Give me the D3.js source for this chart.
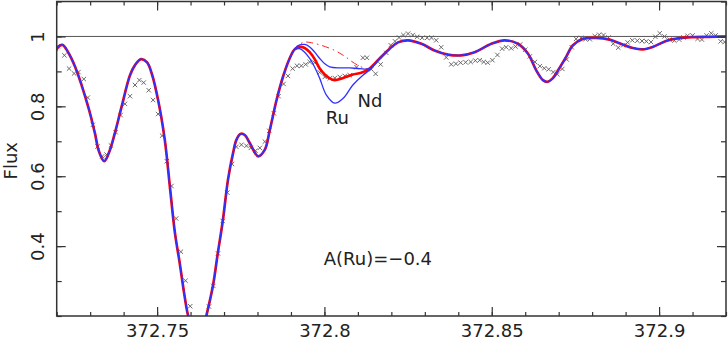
<!DOCTYPE html>
<html>
<head>
<meta charset="utf-8">
<script src="https://cdn.jsdelivr.net/npm/d3@7"></script>
<style>
  body { margin: 0; background: #fff; }
  svg { display: block; font-family: "DejaVu Sans", sans-serif; }
</style>
</head>
<body>
<div id="chart"></div>
<script>
// axis ticks
const xTickLabels = [372.75, 372.8, 372.85, 372.9];
const yTickLabels = [0.4, 0.6, 0.8, 1];

// observed spectrum [wavelength nm, normalised flux]
const observed = [
  [372.7203,0.972],[372.7223,0.946],[372.7237,0.908],[372.7252,0.894],[372.7265,0.898],[372.7281,0.878],
  [372.7293,0.825],[372.7308,0.747],[372.7322,0.685],[372.7336,0.657],[372.7349,0.662],[372.7362,0.688],
  [372.7376,0.726],[372.7391,0.775],[372.7404,0.807],[372.7419,0.829],[372.7434,0.861],[372.7447,0.875],
  [372.7460,0.868],[372.7475,0.846],[372.7488,0.818],[372.7503,0.778],[372.7515,0.716],[372.7529,0.643],
  [372.7543,0.572],[372.7557,0.479],[372.7571,0.384],[372.7585,0.301],[372.7599,0.228],
  [372.7655,0.227],[372.7668,0.286],[372.7682,0.379],[372.7696,0.472],[372.7710,0.553],[372.7724,0.635],
  [372.7737,0.684],[372.7752,0.690],[372.7767,0.687],[372.7780,0.681],[372.7794,0.673],[372.7807,0.681],
  [372.7822,0.699],[372.7835,0.730],[372.7849,0.780],[372.7863,0.829],[372.7878,0.864],[372.7891,0.887],
  [372.7905,0.908],[372.7918,0.916],[372.7931,0.916],[372.7944,0.920],[372.7956,0.927],[372.7971,0.925],
  [372.7986,0.897],[372.8001,0.884],[372.8016,0.880],[372.8031,0.881],[372.8046,0.884],[372.8061,0.887],
  [372.8076,0.889],[372.8096,0.912],[372.8115,0.939],[372.8127,0.939],[372.8140,0.906],[372.8153,0.893],
  [372.8168,0.920],[372.8185,0.953],[372.8198,0.975],[372.8211,0.986],[372.8223,0.997],[372.8236,1.004],
  [372.8250,1.008],[372.8264,1.004],[372.8277,0.999],[372.8292,0.996],[372.8307,0.996],[372.8320,0.996],
  [372.8334,0.989],[372.8349,0.969],[372.8364,0.940],[372.8379,0.920],[372.8393,0.922],[372.8407,0.925],
  [372.8422,0.926],[372.8437,0.927],[372.8451,0.931],[372.8464,0.932],[372.8476,0.927],[372.8488,0.925],
  [372.8502,0.932],[372.8517,0.947],[372.8531,0.965],[372.8543,0.969],[372.8558,0.966],[372.8571,0.971],
  [372.8585,0.977],[372.8600,0.962],[372.8614,0.943],[372.8629,0.927],[372.8644,0.915],[372.8657,0.909],
  [372.8670,0.906],[372.8684,0.898],[372.8696,0.892],[372.8711,0.907],[372.8724,0.934],[372.8739,0.969],
  [372.8752,0.993],[372.8767,0.996],[372.8780,0.992],[372.8793,0.992],[372.8808,1.001],[372.8821,1.005],
  [372.8834,1.004],[372.8849,0.997],[372.8863,0.979],[372.8878,0.968],[372.8893,0.975],[372.8906,0.983],
  [372.8920,0.989],[372.8935,0.988],[372.8949,0.987],[372.8962,0.986],[372.8976,0.984],[372.8989,0.999],
  [372.9002,1.009],[372.9016,1.000],[372.9031,0.991],[372.9046,0.988],[372.9060,0.991],[372.9073,0.997],
  [372.9085,1.002],[372.9100,1.003],[372.9115,0.993],[372.9128,0.991],[372.9142,1.003],[372.9156,1.009],
  [372.9169,1.003],[372.9184,0.986],[372.9196,0.984]
];

// best-fit synthetic spectrum, A(Ru) = -0.4
const synthBest = [
  [372.7195,0.950],[372.7201,0.966],[372.7217,0.976],[372.7234,0.955],[372.7255,0.913],[372.7294,0.799],
  [372.7314,0.724],[372.7326,0.672],[372.7342,0.643],[372.7358,0.672],[372.7374,0.724],[372.7394,0.799],
  [372.7419,0.889],[372.7434,0.918],[372.7452,0.935],[372.7470,0.926],[372.7484,0.894],[372.7503,0.818],
  [372.7523,0.704],[372.7538,0.572],[372.7553,0.440],[372.7568,0.349],[372.7581,0.264],[372.7592,0.204],
  [372.7607,0.158],[372.7620,0.135],[372.7634,0.153],[372.7648,0.204],[372.7667,0.287],[372.7681,0.377],
  [372.7697,0.477],[372.7712,0.591],[372.7727,0.666],[372.7737,0.704],[372.7749,0.721],[372.7762,0.718],
  [372.7777,0.695],[372.7802,0.657],[372.7822,0.676],[372.7837,0.733],[372.7857,0.818],[372.7876,0.884],
  [372.7896,0.937],[372.7911,0.963],[372.7926,0.970],[372.7941,0.967],[372.7956,0.955],[372.7971,0.935],
  [372.7986,0.908],[372.8001,0.891],[372.8016,0.880],[372.8031,0.875],[372.8056,0.881],[372.8085,0.891],
  [372.8110,0.896],[372.8135,0.908],[372.8165,0.937],[372.8195,0.965],[372.8220,0.983],[372.8250,0.989],
  [372.8290,0.979],[372.8329,0.960],[372.8369,0.948],[372.8409,0.946],[372.8449,0.955],[372.8499,0.979],
  [372.8538,0.989],[372.8578,0.979],[372.8608,0.951],[372.8633,0.903],[372.8653,0.875],[372.8666,0.870],
  [372.8682,0.880],[372.8702,0.909],[372.8722,0.941],[372.8742,0.974],[372.8772,0.993],[372.8812,0.996],
  [372.8852,0.991],[372.8891,0.977],[372.8921,0.967],[372.8951,0.963],[372.8981,0.970],[372.9021,0.987],
  [372.9061,0.995],[372.9100,0.998],[372.9150,0.999],[372.9205,1.000]
];

// Ru line window and the alternative syntheses inside it
const ruWindow = [372.7900, 372.8140];
const synthLowRu = [
  [372.7911,0.964],[372.7926,0.976],[372.7941,0.977],[372.7956,0.970],[372.7971,0.955],[372.7986,0.937],
  [372.8001,0.922],[372.8016,0.913],[372.8046,0.910],[372.8076,0.910],[372.8105,0.908],[372.8135,0.908]
];
const synthHighRu = [
  [372.7911,0.962],[372.7926,0.965],[372.7941,0.955],[372.7956,0.937],[372.7971,0.912],[372.7986,0.880],
  [372.8006,0.832],[372.8031,0.809],[372.8056,0.823],[372.8085,0.861],[372.8115,0.889],[372.8135,0.904]
];
const synthNoRu = [
  [372.7911,0.966],[372.7926,0.978],[372.7941,0.984],[372.7961,0.982],[372.7986,0.976],[372.8031,0.960],
  [372.8061,0.943],[372.8090,0.923],[372.8120,0.909],[372.8135,0.907]
];

const width = 728, height = 342;
const margin = {top: 1.5, right: 2, bottom: 26, left: 56.7};
const ink = '#333';

const svg = d3.select('#chart').append('svg')
  .attr('width', width)
  .attr('height', height);

const x = d3.scaleLinear().domain([372.72, 372.92]).range([margin.left, width - margin.right]);
const y = d3.scaleLinear().domain([0.2, 1.1]).range([height - margin.bottom, margin.top]);

svg.append('clipPath').attr('id', 'plot-clip')
  .append('rect')
  .attr('x', x.range()[0]).attr('y', y.range()[1])
  .attr('width', x.range()[1] - x.range()[0])
  .attr('height', y.range()[0] - y.range()[1]);

function splice(region) {
  return synthBest.filter(d => d[0] < ruWindow[0])
    .concat(region, synthBest.filter(d => d[0] > ruWindow[1]));
}

const line = d3.line()
  .x(d => x(d[0]))
  .y(d => y(d[1]))
  .curve(d3.curveCatmullRom.alpha(0.5));

// continuum
svg.append('line')
  .attr('x1', x.range()[0]).attr('x2', x.range()[1])
  .attr('y1', y(1)).attr('y2', y(1))
  .attr('stroke', '#555').attr('stroke-width', 1);

const plot = svg.append('g').attr('clip-path', 'url(#plot-clip)');

// observed points as crosses
const cross = 2.2;
plot.append('g').selectAll('path')
  .data(observed)
  .join('path')
  .attr('d', d => {
    const cx = x(d[0]), cy = y(d[1]);
    return `M${cx - cross},${cy - cross}L${cx + cross},${cy + cross}M${cx - cross},${cy + cross}L${cx + cross},${cy - cross}`;
  })
  .attr('stroke', '#5a5a5a')
  .attr('stroke-width', 0.9)
  .attr('fill', 'none');

plot.append('path')
  .attr('d', line(splice(synthNoRu)))
  .attr('fill', 'none')
  .attr('stroke', '#ff2020')
  .attr('stroke-width', 1)
  .attr('stroke-dasharray', '7,4,1.5,4');

plot.append('path')
  .attr('d', line(synthBest))
  .attr('fill', 'none')
  .attr('stroke', '#ff0000')
  .attr('stroke-width', 2.7);

[synthLowRu, synthHighRu].forEach(region => {
  plot.append('path')
    .attr('d', line(splice(region)))
    .attr('fill', 'none')
    .attr('stroke', '#3030ff')
    .attr('stroke-width', 1.3);
});

// axes, ticks pointing inward
const minorX = x.ticks(20), minorY = y.ticks(9);
const fmt = d => String(+d.toFixed(2));

function styleAxis(g) {
  g.select('.domain').remove();
  g.selectAll('line').attr('stroke', ink).attr('stroke-width', 1.2);
  g.selectAll('text').attr('fill', '#222').attr('font-size', 18).attr('font-family', '"DejaVu Sans", sans-serif');
}

svg.append('g').attr('transform', `translate(0,${y.range()[0]})`)
  .call(d3.axisBottom(x).tickValues(minorX).tickSize(-4).tickFormat('')).call(styleAxis);
svg.append('g').attr('transform', `translate(0,${y.range()[0]})`)
  .call(d3.axisBottom(x).tickValues(xTickLabels).tickSizeInner(-9).tickSizeOuter(0).tickPadding(8).tickFormat(fmt))
  .call(styleAxis);
svg.append('g').attr('transform', `translate(0,${y.range()[1]})`)
  .call(d3.axisTop(x).tickValues(minorX).tickSize(-4).tickFormat('')).call(styleAxis);
svg.append('g').attr('transform', `translate(0,${y.range()[1]})`)
  .call(d3.axisTop(x).tickValues(xTickLabels).tickSize(-9).tickFormat('')).call(styleAxis);

svg.append('g').attr('transform', `translate(${x.range()[0]},0)`)
  .call(d3.axisLeft(y).tickValues(minorY).tickSize(-5).tickFormat('')).call(styleAxis);
svg.append('g').attr('transform', `translate(${x.range()[0]},0)`)
  .call(d3.axisLeft(y).tickValues(yTickLabels).tickSizeInner(-9).tickSizeOuter(0).tickFormat(fmt))
  .call(styleAxis)
  .call(g => g.selectAll('text')
    .attr('x', 0).attr('dy', 0)
    .attr('text-anchor', 'middle')
    .attr('transform', 'translate(-13,0) rotate(-90)'));
svg.append('g').attr('transform', `translate(${x.range()[1]},0)`)
  .call(d3.axisRight(y).tickValues(minorY).tickSize(-5).tickFormat('')).call(styleAxis);
svg.append('g').attr('transform', `translate(${x.range()[1]},0)`)
  .call(d3.axisRight(y).tickValues(yTickLabels).tickSize(-9).tickFormat('')).call(styleAxis);

// frame
svg.append('rect')
  .attr('x', x.range()[0]).attr('y', y.range()[1])
  .attr('width', x.range()[1] - x.range()[0])
  .attr('height', y.range()[0] - y.range()[1])
  .attr('fill', 'none')
  .attr('stroke', ink)
  .attr('stroke-width', 1.5);

svg.append('text')
  .attr('transform', `translate(17,${(y.range()[0] + y.range()[1]) / 2 + 2}) rotate(-90)`)
  .attr('text-anchor', 'middle')
  .attr('font-size', 18)
  .attr('fill', '#222')
  .text('Flux');

// annotations
const notes = [
  {text: 'Ru', at: [372.8004, 0.750]},
  {text: 'Nd', at: [372.8099, 0.798]},
  {text: 'A(Ru)=\u22120.4', at: [372.7998, 0.346]}
];
svg.append('g').selectAll('text')
  .data(notes)
  .join('text')
  .attr('x', d => x(d.at[0]))
  .attr('y', d => y(d.at[1]))
  .attr('font-size', 18)
  .attr('fill', '#222')
  .text(d => d.text);
</script>
</body>
</html>
